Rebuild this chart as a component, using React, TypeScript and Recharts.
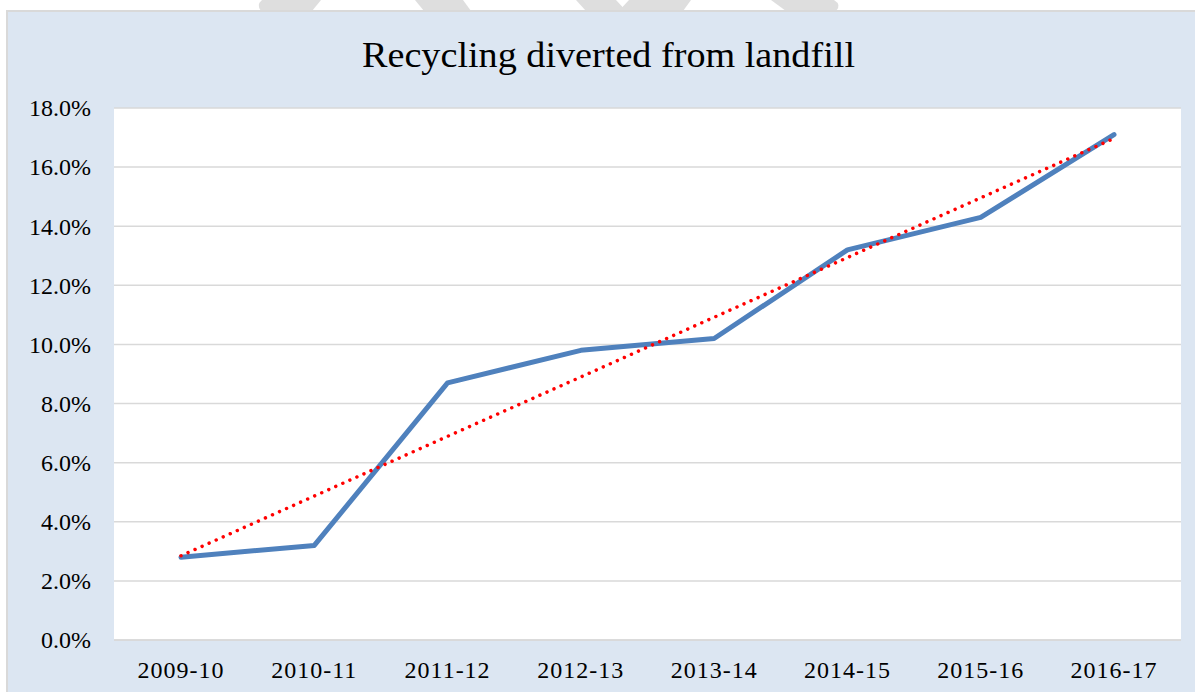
import React from "react";
import { LineChart, Line, XAxis, YAxis, CartesianGrid } from "recharts";

const categories = ["2009-10", "2010-11", "2011-12", "2012-13", "2013-14", "2014-15", "2015-16", "2016-17"];
const recycling = [2.8, 3.2, 8.7, 9.8, 10.2, 13.2, 14.3, 17.1];
const trend = [2.85, 4.87, 6.89, 8.9, 10.92, 12.94, 14.96, 16.97];
const yTicks = [0, 2, 4, 6, 8, 10, 12, 14, 16, 18];
const title = "Recycling diverted from landfill";

const data = categories.map((c, i) => ({ cat: c, value: recycling[i], trend: trend[i] }));

const FONT = "'Liberation Serif', 'Times New Roman', serif";

const YTick = (props: any) => {
  const { y, payload } = props;
  return (
    <text x={83} y={y + 8.3} textAnchor="end" fontFamily={FONT} fontSize={24} fill="#000">
      {Number(payload.value).toFixed(1) + "%"}
    </text>
  );
};

const XTick = (props: any) => {
  const { x, payload } = props;
  return (
    <text x={x} y={666} textAnchor="middle" fontFamily={FONT} fontSize={24} letterSpacing={1} fill="#000">
      {payload.value}
    </text>
  );
};

export default function App() {
  return (
    <div style={{ position: "absolute", left: 0, top: 0, width: 1195, height: 692, background: "#fff", overflow: "hidden" }}>
      <svg style={{ position: "absolute", left: 0, top: 0 }} width={1195} height={12}>
        <path d="M262,0 L321,0 L312,11 L261,11 Q256,5 262,0 Z" fill="#dedede" />
        <path d="M415,0 L463,0 L471,11 L424,11 Z" fill="#dedede" />
        <path d="M576,0 L616,0 L622.5,7 L629,0 L691,0 L683,11 L586,11 Z" fill="#dedede" />
        <path d="M771,0 L834,0 Q842,5 836,11 L786,11 Z" fill="#dedede" />
      </svg>
      <div
        style={{
          position: "absolute",
          left: 6,
          top: 10,
          width: 1189,
          height: 682,
          background: "#dce6f2",
          borderLeft: "2px solid #d9d9d9",
          borderTop: "2px solid #d9d9d9",
        }}
      >
        <LineChart width={1187} height={680} data={data} margin={{ top: 96, right: 14, left: 0, bottom: 0 }}>
          <CartesianGrid vertical={false} stroke="#d9d9d9" strokeWidth={1.5} fill="#ffffff" fillOpacity={1} />
          <XAxis
            dataKey="cat"
            height={52}
            padding={{ left: 67, right: 67 }}
            tickLine={false}
            axisLine={{ stroke: "#d9d9d9", strokeWidth: 1.5 }}
            tick={<XTick />}
            interval={0}
          />
          <YAxis
            width={106}
            domain={[0, 18]}
            ticks={yTicks}
            tickLine={false}
            axisLine={false}
            tick={<YTick />}
            interval={0}
          />
          <Line
            dataKey="value"
            type="linear"
            stroke="#4f81bd"
            strokeWidth={5}
            strokeLinecap="round"
            strokeLinejoin="round"
            dot={false}
            activeDot={false}
            isAnimationActive={false}
          />
          <Line
            dataKey="trend"
            type="linear"
            stroke="#ff0000"
            strokeWidth={3.5}
            strokeLinecap="round"
            strokeDasharray="0.01 7.7"
            dot={false}
            activeDot={false}
            isAnimationActive={false}
          />
        </LineChart>
      </div>
      <svg style={{ position: "absolute", left: 0, top: 0, pointerEvents: "none" }} width={1195} height={100}>
        <text
          x={608.5}
          y={66.7}
          textAnchor="middle"
          fontFamily={FONT}
          fontSize={36}
          textLength={493}
          lengthAdjust="spacingAndGlyphs"
          fill="#000"
        >
          {title}
        </text>
      </svg>
    </div>
  );
}
